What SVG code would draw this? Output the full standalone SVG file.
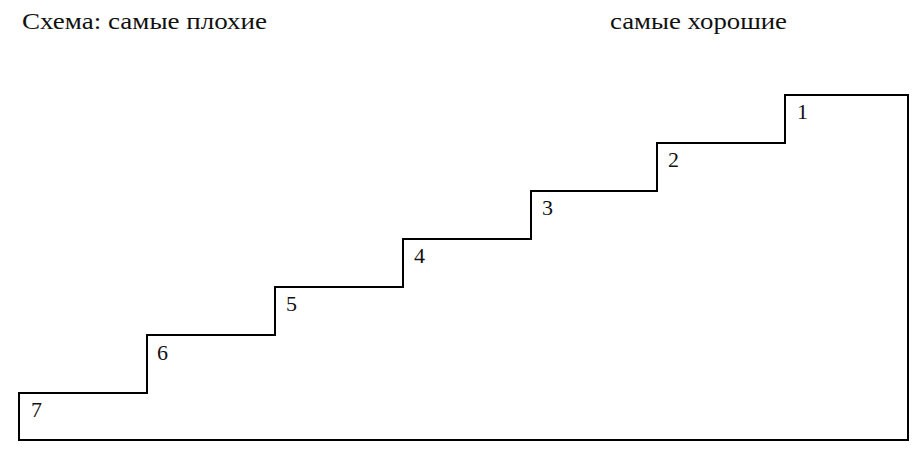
<svg xmlns="http://www.w3.org/2000/svg" width="918" height="452" viewBox="0 0 918 452">
<style>
.t{font-size:24px;fill:#111}
.n{font-size:22px;fill:#111}
.stair{fill:none;stroke:#000;stroke-width:2}
</style>
<rect width="918" height="452" fill="#fff"/>
<g id="titles" font-family="'Liberation Serif', 'DejaVu Serif', serif">
<text class="t" x="22" y="29" textLength="245" lengthAdjust="spacingAndGlyphs">Схема: самые плохие</text>
<text class="t" x="610" y="29" textLength="177" lengthAdjust="spacingAndGlyphs">самые хорошие</text>
</g>
<g id="connectors">
<path class="stair" d="M19,440 V393 H147 V335 H275 V287 H403 V239 H531 V191 H657 V143 H785 V95 H908 V440 Z"/>
</g>
<g font-family="'Liberation Serif', 'DejaVu Serif', serif">
<g id="step1"><text class="n" x="797" y="119">1</text></g>
<g id="step2"><text class="n" x="668" y="167">2</text></g>
<g id="step3"><text class="n" x="542" y="215">3</text></g>
<g id="step4"><text class="n" x="414" y="263">4</text></g>
<g id="step5"><text class="n" x="286" y="311">5</text></g>
<g id="step6"><text class="n" x="157" y="360">6</text></g>
<g id="step7"><text class="n" x="31" y="417">7</text></g>
</g>
</svg>
